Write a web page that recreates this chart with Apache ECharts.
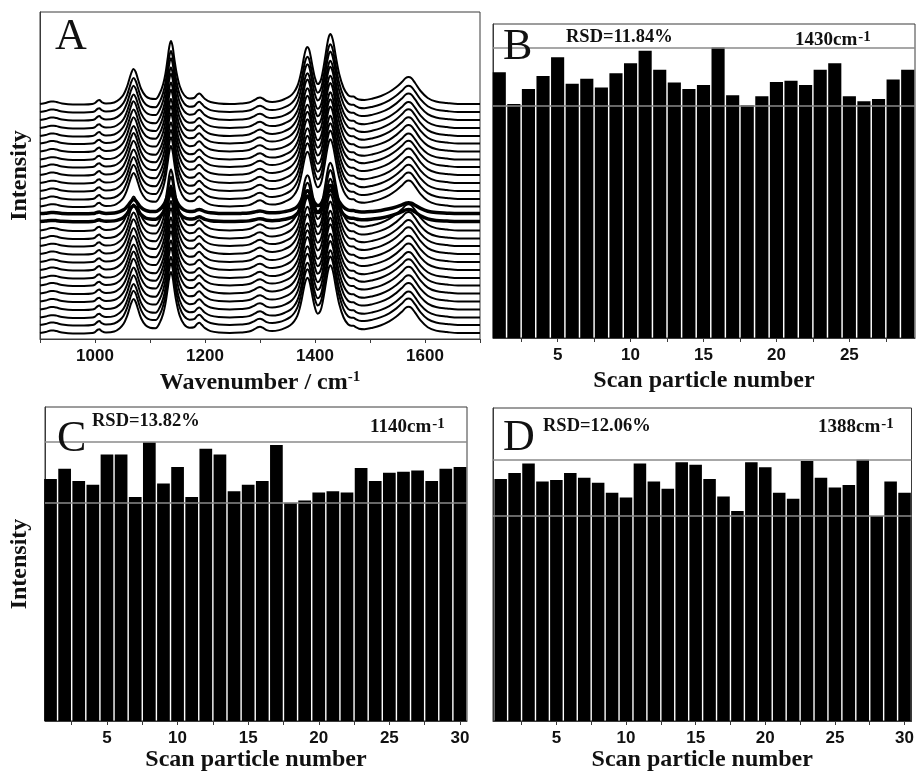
<!DOCTYPE html>
<html>
<head>
<meta charset="utf-8">
<script src="https://cdn.jsdelivr.net/npm/echarts@6/dist/echarts.min.js"></script>
<style>
  html, body { margin: 0; padding: 0; background: #fff; }
  #chart { width: 917px; height: 773px; }
</style>
</head>
<body>
<div id="chart"></div>
<script>
// Raman spectrum of the top trace (height above its baseline), sampled in cm-1
var wavenumbers = [900, 910, 920, 925, 930, 940, 960, 980, 995, 1000, 1005, 1008, 1012, 1020, 1035, 1045, 1052, 1058, 1062, 1066, 1070, 1074, 1078, 1084, 1092, 1100, 1110, 1118, 1124, 1128, 1132, 1135, 1138, 1141, 1144, 1148, 1154, 1162, 1172, 1180, 1186, 1190, 1194, 1200, 1210, 1225, 1245, 1265, 1280, 1290, 1296, 1300, 1305, 1312, 1322, 1335, 1345, 1355, 1362, 1368, 1372, 1376, 1380, 1383, 1386, 1389, 1392, 1396, 1400, 1405, 1410, 1414, 1418, 1422, 1425, 1428, 1431, 1434, 1438, 1444, 1452, 1460, 1466, 1470, 1474, 1480, 1490, 1505, 1520, 1535, 1548, 1558, 1565, 1570, 1575, 1582, 1592, 1605, 1620, 1640, 1660, 1680, 1700];
var topSpectrum = [1, 2, 3.5, 3.5, 3, 1.5, 0.5, 0.5, 1, 2, 4.5, 5, 3, 1.5, 2.5, 6, 10.5, 18, 25, 32, 36, 33, 26, 16, 9, 6.5, 6, 12, 21, 31, 46, 58, 64, 59, 47, 33, 19, 10, 6.5, 7, 10.5, 11.5, 9.5, 6, 3, 1.5, 1, 1.5, 2.5, 5, 7, 7.5, 6.5, 4, 3, 4, 6, 9, 13, 19, 26, 36, 48, 55, 58, 56, 49, 37, 27, 21, 24, 33, 46, 60, 68, 71, 68, 61, 48, 31, 17, 10, 8.5, 8.5, 7, 5.5, 5, 6.5, 9, 13, 18, 23, 27, 28, 27, 22, 14, 7, 3.5, 2, 1, 1, 1];

// Vertical offset and relative scale of each of the stacked spectra (top to bottom)
var traceOffsets = [234, 226, 218, 210, 202, 194.5, 186.5, 178.5, 171, 163, 155, 147, 139, 131.5, 125, 117, 107.5, 99.5, 92, 84, 76, 68, 60, 52.5, 44.5, 36.5, 28.5, 20.5, 13, 5];
var traceScales = [1.0, 0.97, 0.98, 0.96, 0.99, 0.97, 0.98, 0.96, 0.97, 0.98, 0.96, 0.97, 0.98, 0.96, 0.4, 0.45, 0.97, 0.98, 0.96, 0.99, 0.97, 0.98, 0.96, 0.97, 0.99, 0.97, 0.98, 0.96, 0.98, 0.97];
var noisyTraces = [14, 15];

// Band intensities for each scanned particle
var particlesB = [1, 2, 3, 4, 5, 6, 7, 8, 9, 10, 11, 12, 13, 14, 15, 16, 17, 18, 19, 20, 21, 22, 23, 24, 25, 26, 27, 28, 29];
var intensity1430 = [84.6, 74.5, 79.3, 83.4, 89.4, 81.0, 82.6, 79.8, 84.3, 87.5, 91.5, 85.4, 81.4, 79.3, 80.6, 92.5, 77.3, 74.1, 77.0, 81.5, 81.9, 80.6, 85.4, 87.5, 77.0, 75.4, 76.1, 82.3, 85.4];
var particlesCD = [1, 2, 3, 4, 5, 6, 7, 8, 9, 10, 11, 12, 13, 14, 15, 16, 17, 18, 19, 20, 21, 22, 23, 24, 25, 26, 27, 28, 29, 30];
var intensity1140 = [77.1, 80.3, 76.4, 75.2, 84.9, 84.9, 71.3, 88.8, 75.6, 80.9, 71.3, 86.7, 84.9, 73.2, 75.2, 76.4, 87.9, 69.5, 70.2, 72.8, 73.2, 72.8, 80.6, 76.4, 79.1, 79.4, 79.8, 76.4, 80.3, 80.9];
var intensity1388 = [77.3, 79.2, 82.3, 76.5, 77.0, 79.2, 77.7, 76.1, 72.9, 71.4, 82.3, 76.5, 74.2, 82.7, 81.9, 77.3, 71.7, 67.1, 82.7, 81.1, 72.9, 71.0, 83.1, 77.7, 74.6, 75.4, 83.5, 65.5, 76.5, 72.9];

// Axis tick positions and labels
var wavenumberLabels = [1000, 1200, 1400, 1600];
var wavenumberTicks = [900, 1000, 1100, 1200, 1300, 1400, 1500, 1600, 1700];
var particleLabels = [5, 10, 15, 20, 25, 30];
var particleTicks = [2.5, 5, 7.5, 10, 12.5, 15, 17.5, 20, 22.5, 25, 27.5, 30];

// Panel annotations
var panelLetters = ['A', 'B', 'C', 'D'];
var rsdTexts = ['RSD=11.84%', 'RSD=13.82%', 'RSD=12.06%'];
var bandTexts = ['1430cm', '1140cm', '1388cm'];

var SERIF = '"Liberation Serif", "Times New Roman", serif';
var SANS = '"Liberation Sans", Arial, sans-serif';
var FRAME = '#3a3a3a';

var chart = echarts.init(document.getElementById('chart'), null, { renderer: 'canvas' });

var grids = [
  { left: 40, top: 12, width: 440, height: 327 },
  { left: 493, top: 24, width: 422, height: 314 },
  { left: 45, top: 407, width: 422, height: 315 },
  { left: 493, top: 408, width: 422, height: 313 }
].map(function (g) {
  return Object.assign({ show: true, borderColor: FRAME, borderWidth: 1, backgroundColor: 'rgba(0,0,0,0)' }, g);
});

function xAxisBase(idx, min, max, labels, ticks, name, nameGap) {
  return {
    type: 'value', gridIndex: idx, min: min, max: max,
    splitLine: { show: false },
    axisLine: { show: true, onZero: false, lineStyle: { color: FRAME, width: 1 } },
    axisTick: { show: true, inside: false, length: 4, customValues: ticks, lineStyle: { color: FRAME } },
    axisLabel: {
      show: true, customValues: labels, margin: 9, color: '#111',
      fontFamily: SANS, fontWeight: 'bold', fontSize: 17,
      formatter: function (v) { return String(v); }
    },
    name: name, nameLocation: 'middle', nameGap: nameGap,
    nameTextStyle: {
      color: '#111', fontFamily: SERIF, fontWeight: 'bold', fontSize: 24,
      rich: {
        m: { fontFamily: SERIF, fontWeight: 'bold', fontSize: 24, lineHeight: 26, color: '#111' },
        s: { fontFamily: SERIF, fontWeight: 'bold', fontSize: 15, verticalAlign: 'top', lineHeight: 26, color: '#111', padding: [0, 0, 8, 0] }
      }
    }
  };
}

function yAxisBase(idx, min, max, name, nameGap) {
  return {
    type: 'value', gridIndex: idx, min: min, max: max,
    splitLine: { show: false },
    axisLine: { show: true, lineStyle: { color: FRAME, width: 1 } },
    axisTick: { show: false },
    axisLabel: { show: false },
    name: name || '', nameLocation: 'middle', nameGap: nameGap || 0, nameRotate: 90,
    nameTextStyle: { color: '#111', fontFamily: SERIF, fontWeight: 'bold', fontSize: 24 }
  };
}

var xAxes = [
  xAxisBase(0, 900, 1700, wavenumberLabels, wavenumberTicks, '{m|Wavenumber / cm}{s|-1}', 31),
  xAxisBase(1, 0.57, 29.5, particleLabels, particleTicks, 'Scan particle number', 31),
  xAxisBase(2, 0.61, 30.5, particleLabels, particleTicks, 'Scan particle number', 27),
  xAxisBase(3, 0.45, 30.5, particleLabels, particleTicks, 'Scan particle number', 25)
];
var yAxes = [
  yAxisBase(0, 0, 327, 'Intensity', 8),
  yAxisBase(1, 0, 100),
  yAxisBase(2, 0, 100, 'Intensity', 13),
  yAxisBase(3, 0, 100)
];

var series = [];

// Stacked spectra in panel A
traceOffsets.forEach(function (off, i) {
  var noisy = noisyTraces.indexOf(i) >= 0;
  series.push({
    type: 'line', xAxisIndex: 0, yAxisIndex: 0,
    data: wavenumbers.map(function (w, k) { return [w, off + traceScales[i] * topSpectrum[k]]; }),
    showSymbol: false, smooth: 0.35, silent: true,
    lineStyle: { color: '#000', width: noisy ? 3.5 : 2 },
    z: 2
  });
});

function barSeries(idx, xs, ys) {
  return {
    type: 'bar', xAxisIndex: idx, yAxisIndex: idx,
    data: xs.map(function (x, k) { return [x, ys[k]]; }),
    barWidth: '90%', silent: true,
    itemStyle: { color: '#000' },
    markLine: {
      silent: true, symbol: 'none', animation: false,
      label: { show: false },
      lineStyle: { color: '#8a8a8a', width: 1.5, type: 'solid' },
      data: [{ type: 'max' }, { type: 'min' }]
    },
    z: 2
  };
}
series.push(barSeries(1, particlesB, intensity1430));
series.push(barSeries(2, particlesCD, intensity1140));
series.push(barSeries(3, particlesCD, intensity1388));

// Annotations: panel letters, RSD values and Raman band positions
function letter(text, x, y) {
  return { type: 'text', x: x, y: y, z: 10, silent: true,
    style: { text: text, fill: '#111', font: 'normal 44px ' + SERIF, textAlign: 'left', textVerticalAlign: 'middle' } };
}
function rsd(text, x, y) {
  return { type: 'text', x: x, y: y, z: 10, silent: true,
    style: { text: text, fill: '#111', font: 'bold 18.5px ' + SERIF, textAlign: 'left', textVerticalAlign: 'middle' } };
}
function band(text, x, y) {
  return { type: 'text', x: x, y: y, z: 10, silent: true,
    style: {
      text: '{m|' + text + '}{s|-1}', textAlign: 'left', textVerticalAlign: 'middle',
      rich: {
        m: { fontFamily: SERIF, fontWeight: 'bold', fontSize: 19, lineHeight: 20, fill: '#111' },
        s: { fontFamily: SERIF, fontWeight: 'bold', fontSize: 15, lineHeight: 20, verticalAlign: 'top', fill: '#111', padding: [0, 0, 6, 1] }
      }
    } };
}

var graphics = [
  letter(panelLetters[0], 55, 37),
  letter(panelLetters[1], 503, 47),
  letter(panelLetters[2], 57, 439),
  letter(panelLetters[3], 503, 438),
  rsd(rsdTexts[0], 566, 37),
  rsd(rsdTexts[1], 92, 421),
  rsd(rsdTexts[2], 543, 426),
  band(bandTexts[0], 795, 40),
  band(bandTexts[1], 370, 427),
  band(bandTexts[2], 818, 427)
];

chart.setOption({
  animation: false,
  backgroundColor: '#fff',
  grid: grids,
  xAxis: xAxes,
  yAxis: yAxes,
  series: series,
  graphic: graphics
});
</script>
</body>
</html>
